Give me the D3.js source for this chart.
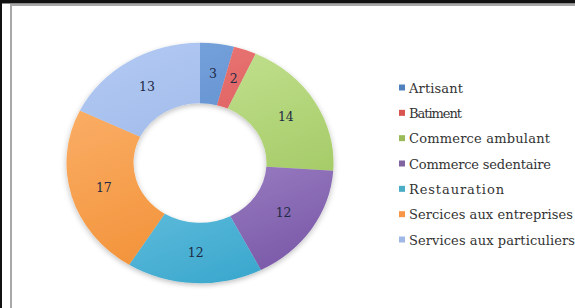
<!DOCTYPE html>
<html><head><meta charset="utf-8">
<script src="https://cdn.jsdelivr.net/npm/d3@7"></script>
<style>body{margin:0;background:#fff;}svg{display:block;}</style>
</head><body>
<svg id="c" width="575" height="308"></svg>
<script>
const categories = ["Artisant","Batiment","Commerce ambulant","Commerce sedentaire","Restauration","Sercices aux entreprises","Services aux particuliers"];
const values = [3,2,14,12,12,17,13];
const colorsLight = ["#78a3dc","#ec7a78","#c8e496","#bba7de","#8fd6ef","#fcb36e","#b0c8f2"];
const colorsDark  = ["#4a7ec4","#cc4444","#98c256","#7a58a8","#38a6cc","#f08a2c","#8eaadf"];
const legendColors = ["#4f81bd","#d9534f","#9bbb59","#8064a2","#4bacc6","#f79646","#a0b8e8"];

const svg = d3.select("#c");
const W = 575, H = 308;

// frame
svg.append("rect").attr("x",0).attr("y",0).attr("width",W).attr("height",3).attr("fill","#111");
svg.append("rect").attr("x",0).attr("y",3).attr("width",W).attr("height",1).attr("fill","#888");
svg.append("rect").attr("x",0).attr("y",0).attr("width",2).attr("height",H).attr("fill","#111");
svg.append("rect").attr("x",10).attr("y",4).attr("width",W-10).attr("height",2).attr("fill","#a8a8a8");
svg.append("rect").attr("x",10).attr("y",4).attr("width",2).attr("height",H-4).attr("fill","#a8a8a8");

const cx = 200, cy = 163, R = 133.5, r0 = 66.5, sy = 0.9;

const defs = svg.append("defs");
const f = defs.append("filter").attr("id","sh").attr("x","-20%").attr("y","-20%").attr("width","140%").attr("height","140%");
f.append("feGaussianBlur").attr("in","SourceAlpha").attr("stdDeviation",3).attr("result","b");
f.append("feOffset").attr("in","b").attr("dx",0).attr("dy",2).attr("result","o");
f.append("feComponentTransfer").attr("in","o").attr("result","o2").append("feFuncA").attr("type","linear").attr("slope",0.25);
const fm = f.append("feMerge"); fm.append("feMergeNode").attr("in","o2"); fm.append("feMergeNode").attr("in","SourceGraphic");

categories.forEach((c,i)=>{
  const g = defs.append("linearGradient").attr("id","g"+i)
    .attr("gradientUnits","userSpaceOnUse").attr("x1",-60).attr("y1",-R).attr("x2",60).attr("y2",R);
  g.append("stop").attr("offset","0%").attr("stop-color",colorsLight[i]);
  g.append("stop").attr("offset","100%").attr("stop-color",colorsDark[i]);
});

const pie = d3.pie().sort(null).value(d=>d);
const arcs = pie(values);
const arc = d3.arc().innerRadius(r0).outerRadius(R);

const gp = svg.append("g").attr("transform",`translate(${cx},${cy}) scale(1,${sy})`).attr("filter","url(#sh)");
gp.selectAll("path").data(arcs).join("path").attr("d",arc).attr("fill",(d,i)=>`url(#g${i})`);

svg.selectAll("text.lbl").data(arcs).join("text").attr("class","lbl")
  .attr("x",d=>cx+arc.centroid(d)[0]).attr("y",d=>cy+arc.centroid(d)[1]*sy)
  .attr("text-anchor","middle").attr("dominant-baseline","central")
  .attr("font-family","DejaVu Serif, serif").attr("font-size",12.5).attr("fill","#1e2a45")
  .text(d=>d.data);

// legend
const ly = d3.scalePoint().domain(categories).range([88,240]);
const lg = svg.append("g");
const widths = [54,53,141,142,95,164,166];
categories.forEach((c,i)=>{
  lg.append("rect").attr("x",399).attr("y",ly(c)-3.5).attr("width",6).attr("height",6).attr("fill",legendColors[i]);
  lg.append("text").attr("x",409).attr("y",ly(c)).attr("dominant-baseline","central")
    .attr("font-family","DejaVu Serif, serif").attr("font-size",13).attr("fill","#333")
    .attr("textLength",widths[i]).attr("lengthAdjust","spacing").text(c);
});
</script>
</body></html>
